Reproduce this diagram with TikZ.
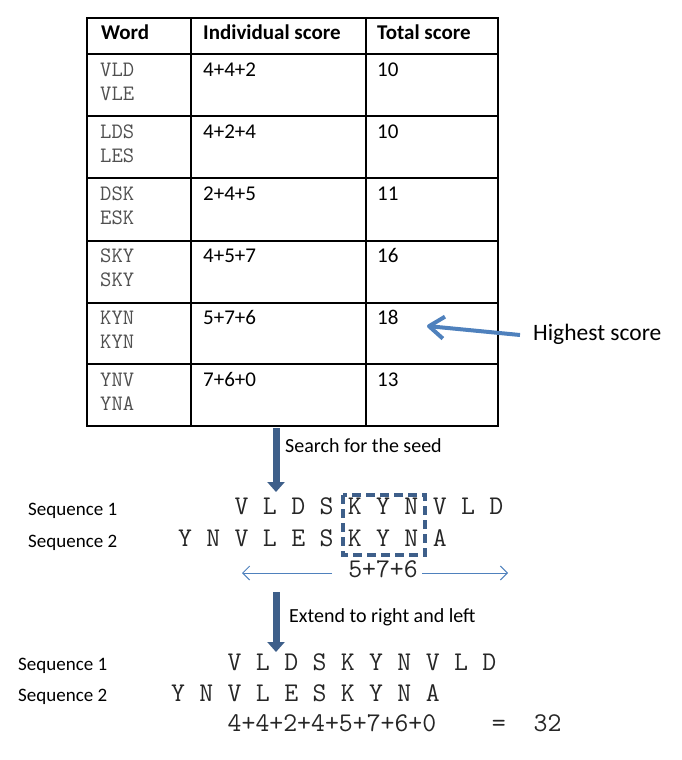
\documentclass[tikz,border=0pt]{standalone}
\usepackage{fontspec}
\setmainfont{Carlito}
\usetikzlibrary{arrows.meta}

\definecolor{darkblue}{RGB}{62,95,138}
\definecolor{lightblue}{RGB}{79,129,189}
\definecolor{wordgray}{RGB}{80,80,80}

\tikzset{
  txt/.style={inner sep=0pt, anchor=west, text height=0.64em, text depth=0pt},
  head/.style={txt, font=\fontsize{21}{24}\bfseries},
  cell/.style={txt, font=\fontsize{21}{24}\selectfont},
  word/.style={txt, font=\ttfamily\fontsize{22}{26}\selectfont, text=wordgray, text height=0.61em},
  seq/.style={inner sep=0pt, text height=0.61em, text depth=0pt, font=\ttfamily\fontsize{27}{30}\selectfont, text=black!85},
  seqlabel/.style={txt, font=\fontsize{19}{22}\selectfont},
  steparrow/.style={darkblue, line width=7pt, -{Triangle[width=17pt,length=10pt]}},
  thinarrow/.style={lightblue, line width=1pt, -{Straight Barb[length=7pt,width=14pt]}}
}

\begin{document}
\begin{tikzpicture}[x=1pt, y=-1pt]
  \useasboundingbox (0,0) rectangle (682,760);

  % Khung bang
  \def\tl{87} \def\tr{498}
  \def\ca{191} \def\cb{366}
  \def\ttop{18} \def\tbot{426}
  \draw[line width=1.2pt] (\tl,\ttop) rectangle (\tr,\tbot);
  \foreach \y in {54,116,178,241,303,364}
    \draw[line width=1.2pt] (\tl,\y) -- (\tr,\y);
  \draw[line width=1.2pt] (\ca,\ttop) -- (\ca,\tbot);
  \draw[line width=1.2pt] (\cb,\ttop) -- (\cb,\tbot);

  % Tieu de
  \node[head] (hword) at (101,36) {Word};
  \node[head] (hind) at (203,36) {Individual score};
  \node[head] (htot) at (377,36) {Total score};

  % Cac dong
  \foreach \wa/\wb/\is/\ts [count=\k from 0] in
    {VLD/VLE/4+4+2/10, LDS/LES/4+2+4/10, DSK/ESK/2+4+5/11,
     SKY/SKY/4+5+7/16, KYN/KYN/5+7+6/18, YNV/YNA/7+6+0/13}
  {
    \pgfmathsetmacro{\ry}{54+62*\k}
    \node[word] (wa\k) at (100,\ry+19) {\wa};
    \node[word] (wb\k) at (100,\ry+43) {\wb};
    \node[cell] (is\k) at (203,\ry+19) {\is};
    \node[cell] (ts\k) at (377,\ry+19) {\ts};
  }

  % Diem cao nhat
  \node[txt, font=\fontsize{23.5}{26}\selectfont] (hs) at (533,337) {Highest score};
  \coordinate (hstail) at (520,335);
  \coordinate (hstip) at (427,326);
  \draw[lightblue, line width=4pt, line join=round,
        -{Straight Barb[length=15pt,width=22pt,line join=round]}] (hstail) -- (hstip);

  % Tim hat giong
  \coordinate (seedtop) at (276,428);
  \coordinate (seedtip) at (276,492);
  \draw[steparrow] (seedtop) -- (seedtip);
  \node[txt, font=\fontsize{20}{24}\selectfont] (seedlbl) at (285,449) {Search for the seed};

  \node[seqlabel] (mla) at (28,512) {Sequence 1};
  \node[seqlabel] (mlb) at (28,544) {Sequence 2};
  \def\mx{185} \def\dx{28.3}
  \foreach \c [count=\i from 2] in {V,L,D,S,K,Y,N,V,L,D}
    \node[seq] (ma\i) at ({\mx+\dx*\i},511) {\c};
  \foreach \c [count=\i from 0] in {Y,N,V,L,E,S,K,Y,N,A}
    \node[seq] (mb\i) at ({\mx+\dx*\i},543) {\c};

  % Hop net dut quanh KYN
  \draw[darkblue, line width=4pt, dash pattern=on 9pt off 5pt]
    (343,495) rectangle (425,555);

  \node[seq] (msum) at (383,574) {5+7+6};
  \coordinate (mleft) at (242,573);
  \coordinate (mright) at (508,573);
  \draw[thinarrow] (332,573) -- (mleft);
  \draw[thinarrow] (422,573) -- (mright);

  % Mo rong sang phai va trai
  \coordinate (exttop) at (276,592);
  \coordinate (exttip) at (276,652);
  \draw[steparrow] (exttop) -- (exttip);
  \node[txt, font=\fontsize{20}{24}\selectfont] (extlbl) at (289,619) {Extend to right and left};

  \node[seqlabel] (bla) at (18,667) {Sequence 1};
  \node[seqlabel] (blb) at (18,698) {Sequence 2};
  \def\bx{178}
  \foreach \c [count=\i from 2] in {V,L,D,S,K,Y,N,V,L,D}
    \node[seq] (ba\i) at ({\bx+\dx*\i},667) {\c};
  \foreach \c [count=\i from 0] in {Y,N,V,L,E,S,K,Y,N,A}
    \node[seq] (bb\i) at ({\bx+\dx*\i},698) {\c};
  \node[seq, anchor=west] (bsum) at ({\bx+\dx*2-7.08},728) {4+4+2+4+5+7+6+0\ \ \ \ =\ \ 32};

\end{tikzpicture}
\end{document}
